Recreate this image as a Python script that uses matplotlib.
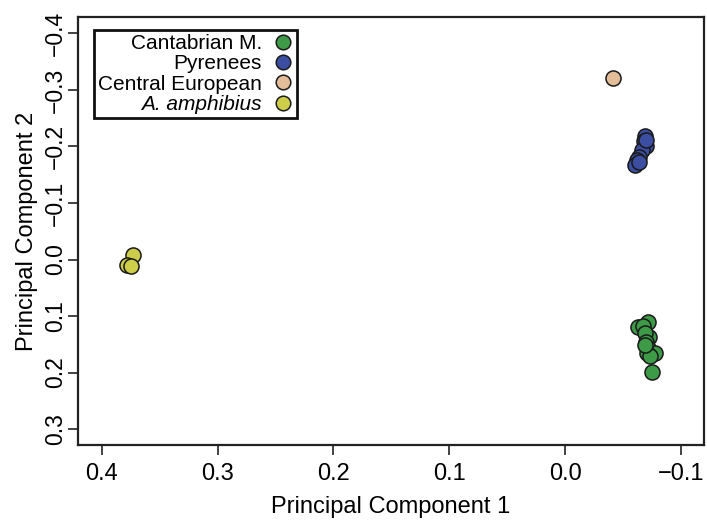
import matplotlib.pyplot as plt
from matplotlib.lines import Line2D

plt.rcParams['font.family'] = ['Liberation Sans', 'DejaVu Sans']

# PCA scores
cant_pc1 = [-0.0718, -0.0631, -0.0675, -0.0726, -0.0689, -0.0700, -0.0718, -0.0776, -0.0709, -0.0732, -0.0747, -0.0690]
cant_pc2 = [0.1102, 0.1201, 0.1178, 0.1367, 0.1307, 0.1450, 0.1572, 0.1650, 0.1661, 0.1709, 0.1986, 0.1520]
pyr_pc1 = [-0.0689, -0.0680, -0.0698, -0.0664, -0.0638, -0.0620, -0.0603, -0.0640, -0.0695]
pyr_pc2 = [-0.2183, -0.2095, -0.2006, -0.1936, -0.1812, -0.1759, -0.1670, -0.1720, -0.2120]
ce_pc1 = [-0.0416]
ce_pc2 = [-0.3215]
amph_pc1 = [0.3727, 0.3784, 0.3750]
amph_pc2 = [-0.0078, 0.0099, 0.0117]

groups = ['Cantabrian M.', 'Pyrenees', 'Central European', 'A. amphibius']
colors = ['#3d9a46', '#3b4ea2', '#e3bd98', '#cdcd4a']

xticks = [0.4, 0.3, 0.2, 0.1, 0.0, -0.1]
xticklabels = ['0.4', '0.3', '0.2', '0.1', '0.0', '\u22120.1']
yticks = [-0.4, -0.3, -0.2, -0.1, 0.0, 0.1, 0.2, 0.3]
yticklabels = ['\u22120.4', '\u22120.3', '\u22120.2', '\u22120.1', '0.0', '0.1', '0.2', '0.3']

fontsize = 17
size = 118

fig = plt.figure(figsize=(7.07, 5.24), dpi=100)
ax = fig.add_axes([0.1103, 0.1508, 0.8855, 0.8168])

data = [(cant_pc1, cant_pc2), (pyr_pc1, pyr_pc2), (ce_pc1, ce_pc2), (amph_pc1, amph_pc2)]
for (x, y), c in zip(data, colors):
    ax.scatter(x, y, s=size, c=c, edgecolors='#1a1a1a', linewidths=1.1, zorder=3)

ax.set_xlim(0.4205, -0.1199)
ax.set_ylim(0.328, -0.429)

ax.set_xticks(xticks)
ax.set_xticklabels(xticklabels, fontsize=fontsize)
ax.set_yticks(yticks)
ax.set_yticklabels(yticklabels, fontsize=16.5, rotation=90, va='center')
ax.tick_params(length=7, width=1.2, color='#222222')
ax.tick_params(axis='x', pad=6)
ax.tick_params(axis='y', pad=1)

for sp in ax.spines.values():
    sp.set_linewidth(1.6)
    sp.set_color('#222222')

ax.set_xlabel('Principal Component 1', fontsize=fontsize, labelpad=8)
ax.set_ylabel('Principal Component 2', fontsize=fontsize, labelpad=4)

handles = [Line2D([], [], ls='none', marker='o', markersize=10.5, markerfacecolor=c,
                  markeredgecolor='#1a1a1a', markeredgewidth=1.1) for c in colors]
leg = ax.legend(handles, groups, loc='upper left', bbox_to_anchor=(0.0256, 0.9696),
                borderaxespad=0, markerfirst=False, fontsize=15, labelspacing=0.06,
                handlelength=0.95, handletextpad=0.55, borderpad=0.2, fancybox=False,
                framealpha=1, edgecolor='#111111')
leg.get_frame().set_linewidth(2)
for t in leg.get_texts():
    t.set_ha('right')
leg.get_texts()[3].set_style('italic')
leg._legend_box.align = 'right'

fig.savefig('out.png', dpi=100)
